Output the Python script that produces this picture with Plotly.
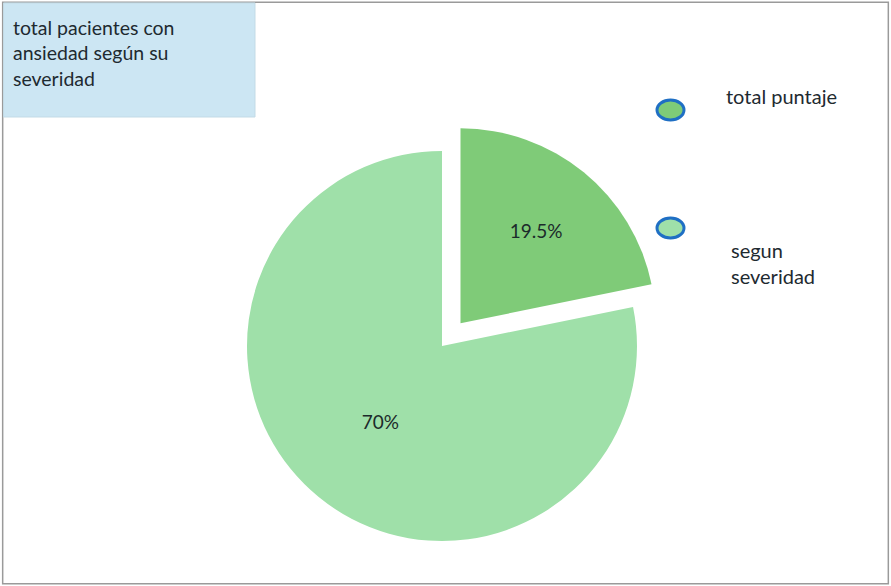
import plotly.graph_objects as go

# Chart data
categorias = ["total puntaje", "segun severidad"]
porcentajes = [19.5, 70]
colores = ["#7fcb78", "#9fe0a9"]
titulo = "total pacientes con<br>ansiedad según su<br>severidad"
leyenda_textos = ["total puntaje", "segun<br>severidad"]

FONT = "Lato"
W, H = 891, 586

# pie geometry in pixels (converted to a paper-space domain below)
cx, cy, r, pull = 442, 346, 195, 0.15
half = r * (1 + pull)

fig = go.Figure()

fig.add_trace(go.Pie(
    labels=categorias,
    values=porcentajes,
    sort=False,
    direction="clockwise",
    rotation=0,
    pull=[pull, 0],
    marker=dict(colors=colores, line=dict(width=0)),
    texttemplate="%{value}%",
    textposition="inside",
    insidetextorientation="horizontal",
    textfont=dict(family=FONT, size=19, color="#1c2b2b"),
    domain=dict(x=[(cx - half) / W, (cx + half) / W],
                y=[1 - (cy + half) / H, 1 - (cy - half) / H]),
    showlegend=False,
    hoverinfo="label+value",
))

shapes = [
    # outer chart border
    dict(type="rect", xref="paper", yref="paper", x0=0.003, y0=0.004, x1=0.997, y1=0.996,
         line=dict(color="#9a9a9a", width=1.5), fillcolor="rgba(0,0,0,0)", layer="below"),
    # title box
    dict(type="rect", xref="paper", yref="paper", x0=0.004, y0=1 - 117 / H, x1=255 / W, y1=0.995,
         line=dict(color="#c3dbe6", width=1), fillcolor="#cce6f3", layer="below"),
]

annotations = [
    dict(text=titulo, xref="paper", yref="paper", x=11 / W, y=1 - 14 / H,
         xanchor="left", yanchor="top", align="left", showarrow=False,
         font=dict(family=FONT, size=19.5, color="#1e2a30")),
]

# legend swatches and labels
legend_y = [110, 228]
text_pos = [(724, 96), (729, 263)]
for color, ly, txt, (tx, ty) in zip(colores, legend_y, leyenda_textos, text_pos):
    shapes.append(dict(type="circle", xref="paper", yref="paper",
                       x0=657 / W, x1=684 / W, y0=1 - (ly + 10) / H, y1=1 - (ly - 10) / H,
                       line=dict(color="#1f6fc4", width=3), fillcolor=color))
    annotations.append(dict(text=txt, xref="paper", yref="paper", x=tx / W, y=1 - ty / H,
                            xanchor="left", yanchor="middle", align="left", showarrow=False,
                            font=dict(family=FONT, size=20, color="#1e2a30")))

fig.update_layout(
    width=W, height=H,
    margin=dict(l=0, r=0, t=0, b=0),
    paper_bgcolor="white",
    plot_bgcolor="white",
    shapes=shapes,
    annotations=annotations,
)

fig.write_html("out.html")
